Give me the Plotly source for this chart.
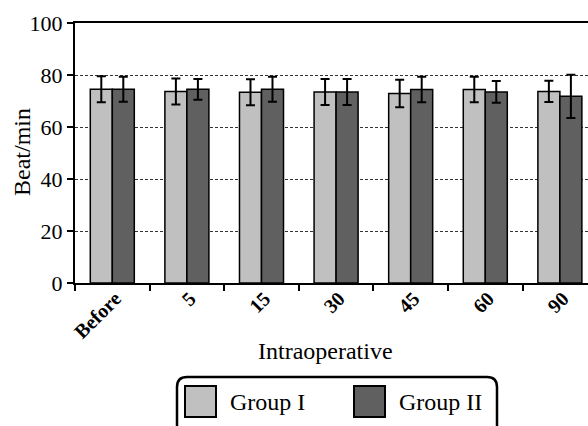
import plotly.graph_objects as go

categories = ["Before", "5", "15", "30", "45", "60", "90"]
group1 = [74.5, 73.7, 73.4, 73.5, 72.9, 74.4, 73.7]
group1_sd = [5.0, 5.0, 5.0, 5.0, 5.3, 4.9, 4.1]
group2 = [74.5, 74.5, 74.5, 73.5, 74.4, 73.5, 71.8]
group2_sd = [4.8, 4.0, 4.8, 5.0, 4.9, 4.2, 8.3]

W, H = 588, 426
ML, MR, MT, MB = 75, 0, 23, 426 - 283
PW, PH = W - ML - MR, H - MT - MB
FONT = "Liberation Serif, Times New Roman, serif"

def px(x):
    return (x - ML) / PW

def py(y):
    return (H - MB - y) / PH

fig = go.Figure()
fig.add_trace(go.Bar(
    x=categories, y=group1, name="Group I",
    marker=dict(color="#c0c0c0", line=dict(color="black", width=1.5)),
    error_y=dict(type="data", array=group1_sd, color="black", thickness=2, width=4.5),
))
fig.add_trace(go.Bar(
    x=categories, y=group2, name="Group II",
    marker=dict(color="#606060", line=dict(color="black", width=1.5)),
    error_y=dict(type="data", array=group2_sd, color="black", thickness=2, width=4.5),
))

# custom legend
shapes = []
x0, x1, y0, y1, r = 177, 497, 377, 450, 10
path = (f"M {px(x0+r)},{py(y0)} L {px(x1-r)},{py(y0)} "
        f"Q {px(x1)},{py(y0)} {px(x1)},{py(y0+r)} L {px(x1)},{py(y1)} "
        f"L {px(x0)},{py(y1)} L {px(x0)},{py(y0+r)} "
        f"Q {px(x0)},{py(y0)} {px(x0+r)},{py(y0)} Z")
shapes.append(dict(type="path", path=path, xref="paper", yref="paper",
                   line=dict(color="black", width=2.5), fillcolor="white", layer="above"))
for sx, col in [(185, "#c0c0c0"), (354, "#606060")]:
    shapes.append(dict(type="rect", xref="paper", yref="paper",
                       x0=px(sx), x1=px(sx + 31), y0=py(386), y1=py(417),
                       fillcolor=col, line=dict(color="black", width=2), layer="above"))
annotations = [
    dict(text="Group I", x=px(228), y=py(402), xref="paper", yref="paper",
         xanchor="left", yanchor="middle", showarrow=False,
         font=dict(family=FONT, size=24, color="black")),
    dict(text="Group II", x=px(397), y=py(402), xref="paper", yref="paper",
         xanchor="left", yanchor="middle", showarrow=False,
         font=dict(family=FONT, size=24, color="black")),
    dict(text="Intraoperative", x=px(325), y=py(351), xref="paper", yref="paper",
         xanchor="center", yanchor="middle", showarrow=False,
         font=dict(family=FONT, size=24, color="black")),
    dict(text="Beat/min", x=px(22), y=py(152), xref="paper", yref="paper",
         xanchor="center", yanchor="middle", showarrow=False, textangle=-90,
         font=dict(family=FONT, size=24, color="black")),
]

fig.update_layout(
    width=W, height=H,
    margin=dict(l=ML, r=MR, t=MT, b=MB, pad=0),
    paper_bgcolor="white", plot_bgcolor="white",
    barmode="group", bargap=0.41, bargroupgap=0,
    showlegend=False,
    shapes=shapes, annotations=annotations,
    font=dict(family=FONT, color="black"),
)
fig.update_xaxes(
    range=[-0.5, 6.377],
    showline=True, linecolor="black", linewidth=2, mirror=True,
    ticks="outside", tickson="boundaries", ticklen=6, tickwidth=2, tickcolor="black",
    tickangle=-45, tickfont=dict(family=FONT, size=20, color="black", weight="bold"),
    ticklabelstandoff=-6, ticklabelshift=3,
    showgrid=False,
)
fig.update_yaxes(
    range=[0, 100], tickvals=[0, 20, 40, 60, 80, 100],
    showline=True, linecolor="black", linewidth=2,
    ticks="outside", ticklen=6, tickwidth=2, tickcolor="black",
    tickfont=dict(family=FONT, size=22, color="black"),
    showgrid=True, gridcolor="#333333", gridwidth=1, griddash="3px,2px",
    zeroline=False,
)

fig.write_html(
    "out.html",
    config={"displayModeBar": False},
    post_script="document.body.style.margin='0';document.body.style.overflow='hidden';",
)
